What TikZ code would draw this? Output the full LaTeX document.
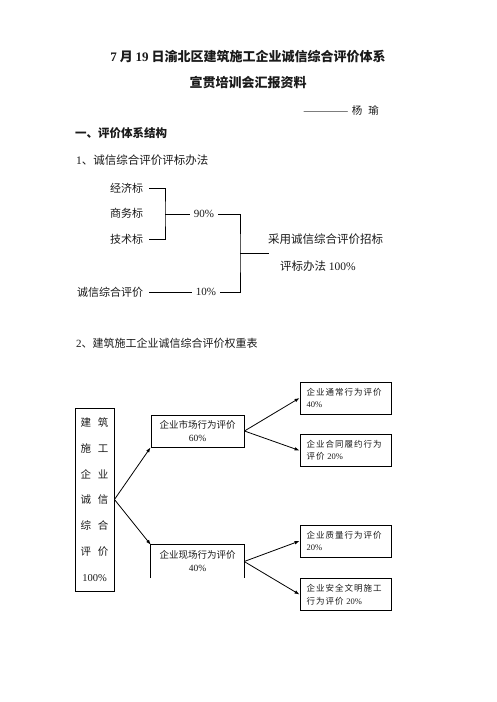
\documentclass[tikz,border=0pt]{standalone}
\usepackage{fontspec}
\usepackage{xcolor}
\usepackage{tikz}
\usetikzlibrary{arrows.meta}
\setmainfont{Liberation Serif}
\newfontfamily\cjk{Noto Sans CJK SC}
\newfontfamily\cjkwide[LetterSpace=12]{Noto Sans CJK SC}
\definecolor{inkcolor}{HTML}{1a1a1a}

\begin{document}
\begin{tikzpicture}[x=1pt, y=-1pt,
  every node/.style={text=inkcolor},
  titletext/.style={inner sep=0pt, font=\cjk\bfseries\fontsize{13}{15}\selectfont},
  headtext/.style={anchor=west, inner sep=0pt, font=\cjk\fontsize{11.5}{13}\selectfont},
  itemtext/.style={anchor=west, inner sep=2pt, font=\cjk\fontsize{11}{13}\selectfont},
  pcttext/.style={inner sep=4pt, font=\fontsize{11}{13}\selectfont},
  midbox/.style={minimum width=93pt, minimum height=32pt, align=center, inner sep=2pt, font=\cjk\fontsize{9.5}{13}\selectfont},
  smallbox/.style={draw, line width=0.9pt, minimum width=91pt, minimum height=32pt, text width=78pt, align=left, inner sep=2pt, font=\cjkwide\fontsize{8.5}{12.5}\selectfont},
  linkarrow/.style={-{Latex[length=5pt,width=3.6pt]}, line width=0.8pt},
  joinline/.style={line width=0.8pt}]%
\fill[white] (0,0) rectangle (496,702);%
\useasboundingbox (0,0) rectangle (496,702);%
% heading
\node[titletext] (title1) at (248,57) {{\rmfamily 7} 月 {\rmfamily 19} 日渝北区建筑施工企业诚信综合评价体系};%
\node[titletext] (title2) at (248,83) {宣贯培训会汇报资料};%
\node[anchor=east, inner sep=0pt, font=\fontsize{11}{13}\selectfont] (author) at (379,110) {————\hspace{4pt}{\cjk\fontsize{10.5}{13}\selectfont 杨\hspace{6pt}瑜}};%
\node[headtext, font=\cjk\bfseries\fontsize{11.5}{13}\selectfont] (part1) at (75,133) {一、评价体系结构};%
\node[headtext] (sub1) at (76,160) {{\rmfamily 1}、诚信综合评价评标办法};%
% part 1
\node[itemtext] (econ) at (108,188) {经济标};%
\node[itemtext] (busi) at (108,213) {商务标};%
\node[itemtext] (tech) at (108,239) {技术标};%
\node[itemtext] (credit) at (75,292) {诚信综合评价};%
\node[pcttext] (p90) at (204,214) {90\%};%
\node[pcttext] (p10) at (206,292) {10\%};%
\node[headtext] (adopt1) at (268,239) {采用诚信综合评价招标};%
\node[headtext] (adopt2) at (280,266) {评标办法 {\rmfamily 100\%}};%
\coordinate (b1) at (165,214);%
\coordinate (b2) at (240,253);%
\coordinate (b3) at (269,253);%
\draw[joinline] ([xshift=4pt]econ.east) -| (b1) |- ([xshift=4pt]tech.east);%
\draw[joinline] (b1) -- (p90);%
\draw[joinline] ([xshift=4pt]credit.east) -- (p10);%
\draw[joinline] (p90.east) -| (b2) |- (p10.east);%
\draw[joinline] (b2) -- (b3);%
% part 2
\node[headtext, font=\cjk\fontsize{11}{13}\selectfont] (sub2) at (76,343) {{\rmfamily 2}、建筑施工企业诚信综合评价权重表};%
\node[draw, line width=0.9pt, minimum width=39pt, minimum height=183pt, inner sep=0pt, align=center, font=\cjk\fontsize{10.5}{25.8}\selectfont] (whole) at (94.5,499.5) {建\hspace{7pt}筑\\施\hspace{7pt}工\\企\hspace{7pt}业\\诚\hspace{7pt}信\\综\hspace{7pt}合\\评\hspace{7pt}价\\{\rmfamily 100\%}};%
\node[midbox, draw, line width=0.9pt] (market) at (197.5,431) {企业市场行为评价\\{\rmfamily 60\%}};%
\node[midbox, minimum height=33pt] (site) at (197.5,561.5) {企业现场行为评价\\{\rmfamily 40\%}};%
\draw[line width=0.9pt] (site.south west) -- (site.north west) -- (site.north east) -- (site.south east);%
\node[smallbox] (usual) at (345.5,398) {企业通常行为评价\\{\rmfamily 40\%}};%
\node[smallbox] (contract) at (345.5,450.5) {企业合同履约行为\\评价 {\rmfamily 20\%}};%
\node[smallbox] (quality) at (345.5,541) {企业质量行为评价\\{\rmfamily 20\%}};%
\node[smallbox] (safety) at (345.5,594.5) {企业安全文明施工\\行为评价 {\rmfamily 20\%}};%
\draw[linkarrow] (whole.east) -- (market.south west);%
\draw[linkarrow] (whole.east) -- (site.north west);%
\draw[linkarrow] (market.east) -- (usual.west);%
\draw[linkarrow] (market.east) -- (contract.west);%
\draw[linkarrow] (site.east) -- (quality.west);%
\draw[linkarrow] (site.east) -- (safety.west);%
\end{tikzpicture}
\end{document}
